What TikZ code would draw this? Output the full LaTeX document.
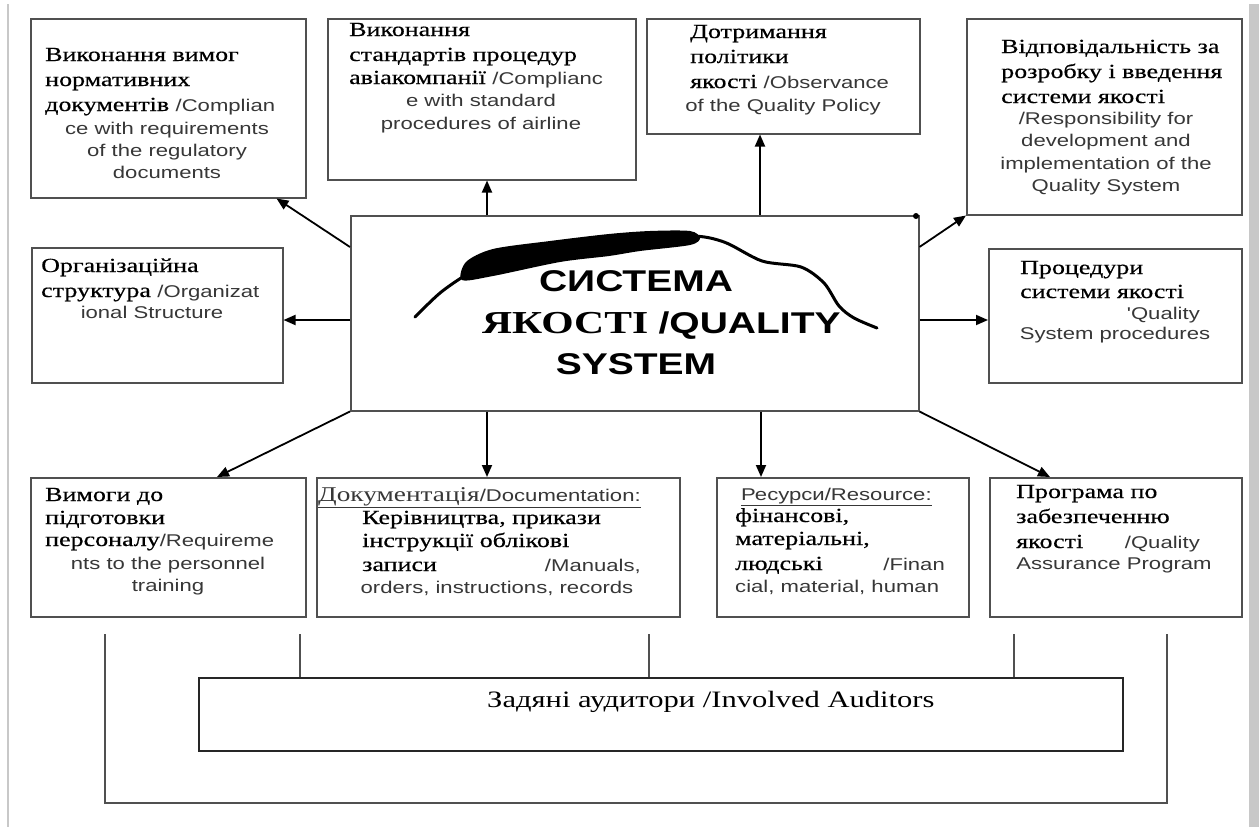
\documentclass[tikz,border=0pt]{standalone}
\usepackage{fontspec}
\usetikzlibrary{arrows.meta,calc}
\newfontfamily\ukr{Liberation Serif}[FakeStretch=1.3]
\newfontfamily\ukrdark{Liberation Serif}[FakeStretch=1.3,FakeBold=0.5]
\newfontfamily\lat{Liberation Sans}[FakeStretch=1.3]
\definecolor{framegray}{RGB}{80,80,80}
\definecolor{latgray}{RGB}{55,55,55}
\definecolor{scangray}{RGB}{200,200,200}

% Latin fragment inside a Ukrainian line
\newcommand\latpart[1]{{\lat\mdseries\fontsize{17}{20}\selectfont\color{latgray}#1}}
% box of given size, placed by its top-left corner
\newcommand\mkpanel[5]{\node[panel, minimum width=#4pt, minimum height=#5pt] (#1) at (#2,#3) {};}
% one line of text
\newcommand\putline[5]{\node[#4] (#1) at (#2,#3) {#5};}

\tikzset{
  panel/.style={draw=framegray, line width=1.5pt, anchor=north west, inner sep=0pt, fill=white},
  ua/.style={font=\ukrdark\fontsize{20}{24}\selectfont, anchor=base west, inner sep=0pt, text=black},
  en/.style={font=\lat\fontsize{17}{20}\selectfont, anchor=base, inner sep=0pt, text=latgray},
  enl/.style={en, anchor=base west},
  enr/.style={en, anchor=base east},
  hdr/.style={font=\lat\fontsize{17}{20}\selectfont, anchor=base west, inner sep=0pt, text=latgray},
  arr/.style={-{Triangle[length=12pt,width=10pt]}, line width=1.8pt},
  tie/.style={line width=1.2pt, draw=framegray},
}

\begin{document}
\begin{tikzpicture}[x=1pt,y=-1pt]
\useasboundingbox (0,0) rectangle (1259,827);
\fill[white] (0,0) rectangle (1259,827);

% page edges
\draw[scangray, line width=2pt] (8,4) -- (8,827);
\fill[scangray] (1249,4) rectangle (1259,827);

% boxes
\mkpanel{b1}{30}{18}{275}{179}
\mkpanel{b2}{327}{18}{308}{161}
\mkpanel{b3}{646}{18}{273}{115}
\mkpanel{b4}{966}{18}{275}{196}
\mkpanel{b5}{31}{247}{251}{135}
\mkpanel{b6}{988}{248}{253}{134}
\mkpanel{c}{350}{215}{568}{195}
\mkpanel{b7}{30}{477}{275}{139}
\mkpanel{b8}{316}{477}{363}{139}
\mkpanel{b9}{716}{477}{252}{139}
\mkpanel{b10}{989}{477}{252}{139}
\node[panel, draw=black!85, line width=2.4pt, minimum width=924pt, minimum height=73pt] (aud) at (198,677) {};

% top row texts
\putline{b1l1}{45}{61}{ua}{Виконання вимог}
\putline{b1l2}{45}{86}{ua}{нормативних}
\putline{b1l3}{45}{111}{ua}{документів \latpart{/Complian}}
\putline{b1l4}{167}{134}{en}{ce with requirements}
\putline{b1l5}{167}{156}{en}{of the regulatory}
\putline{b1l6}{167}{178}{en}{documents}

\putline{b2l1}{349}{36}{ua}{Виконання}
\putline{b2l2}{349}{61}{ua}{стандартів процедур}
\putline{b2l3}{349}{84}{ua}{авіакомпанії \latpart{/Complianc}}
\putline{b2l4}{481}{106}{en}{e with standard}
\putline{b2l5}{481}{129}{en}{procedures of airline}

\putline{b3l1}{690}{38}{ua}{Дотримання}
\putline{b3l2}{690}{63}{ua}{політики}
\putline{b3l3}{690}{88}{ua}{якості \latpart{/Observance}}
\putline{b3l4}{783}{111}{en}{of the Quality Policy}

\putline{b4l1}{1001}{53}{ua}{Відповідальність за}
\putline{b4l2}{1001}{78}{ua}{розробку і введення}
\putline{b4l3}{1001}{103}{ua}{системи якості}
\putline{b4l4}{1106}{124}{en}{/Responsibility for}
\putline{b4l5}{1106}{146}{en}{development and}
\putline{b4l6}{1106}{169}{en}{implementation of the}
\putline{b4l7}{1106}{191}{en}{Quality System}

% middle row texts
\putline{b5l1}{41}{272}{ua}{Організаційна}
\putline{b5l2}{41}{297}{ua}{структура \latpart{/Organizat}}
\putline{b5l3}{152}{318}{en}{ional Structure}

\putline{b6l1}{1020}{274}{ua}{Процедури}
\putline{b6l2}{1020}{298}{ua}{системи якості}
\putline{b6l3}{1200}{319}{enr}{'Quality}
\putline{b6l4}{1115}{339}{en}{System procedures}

% bottom row texts
\putline{b7l1}{45}{501}{ua}{Вимоги до}
\putline{b7l2}{45}{524}{ua}{підготовки}
\putline{b7l3}{45}{546}{ua}{персоналу\latpart{/Requireme}}
\putline{b7l4}{168}{569}{en}{nts to the personnel}
\putline{b7l5}{168}{591}{en}{training}

\putline{b8l1}{318}{501}{hdr}{\underline{{\ukr\fontsize{21}{24}\selectfont Документація}/Documentation:}}
\putline{b8l2}{362}{524}{ua}{Керівництва, прикази}
\putline{b8l3}{362}{547}{ua}{інструкції облікові}
\putline{b8l4}{362}{571}{ua}{записи}
\putline{b8l5}{641}{571}{enr}{/Manuals,}
\putline{b8l6}{497}{593}{en}{orders, instructions, records}

\putline{b9l1}{741}{500}{hdr}{\underline{Ресурси/Resource:}}
\putline{b9l2}{735}{522}{ua}{фінансові,}
\putline{b9l3}{735}{545}{ua}{матеріальні,}
\putline{b9l4}{735}{570}{ua}{людські}
\putline{b9l5}{945}{570}{enr}{/Finan}
\putline{b9l6}{735}{592}{enl}{cial, material, human}

\putline{b10l1}{1016}{498}{ua}{Програма по}
\putline{b10l2}{1016}{523}{ua}{забезпеченню}
\putline{b10l3}{1016}{548}{ua}{якості}
\putline{b10l4}{1200}{548}{enr}{/Quality}
\putline{b10l5}{1114}{569}{en}{Assurance Program}

% central title with the hand-drawn stroke over it
\fill plot[smooth cycle] coordinates {(462,280) (466,262) (493,249) (550,241) (609,234) (650,231) (690,231) (700,238) (690,245) (640,251) (609,256) (560,262) (493,276)};
\draw[line width=3pt, line cap=round, line join=round] plot[smooth] coordinates {(415,317) (440,293) (466,275) (493,262) (560,250) (620,242) (690,236) (724,242) (762,261) (801,267) (824,283) (839,306) (854,318) (877,328)};
\fill (916,216) circle[radius=3];

\node[font=\lat\bfseries\fontsize{30}{30}\selectfont, anchor=base, inner sep=0pt] (t1) at (636,291) {СИСТЕМА};
\node[font=\lat\bfseries\fontsize{30}{30}\selectfont, anchor=base west, inner sep=0pt] (t2) at (482,333) {{\ukr\bfseries\fontsize{32}{32}\selectfont ЯКОСТІ }/QUALITY};
\node[font=\lat\bfseries\fontsize{30}{30}\selectfont, anchor=base, inner sep=0pt] (t3) at (636,374) {SYSTEM};

% auditors
\node[font=\ukr\fontsize{23.5}{26}\selectfont, anchor=base west, inner sep=0pt] (audt) at (487,707) {Задяні аудитори /Involved Auditors};

% arrows from the quality system
\coordinate (cN1) at ($(c.north west)+(137,0)$);
\coordinate (cN2) at ($(c.north west)+(410,0)$);
\coordinate (cS1) at ($(c.south west)+(137,0)$);
\coordinate (cS2) at ($(c.south west)+(411,0)$);
\coordinate (cW) at ($(c.north west)+(0,105)$);
\coordinate (cE) at ($(c.north east)+(0,105)$);
\draw[arr] ($(c.north west)+(0,32)$) -- ($(b1.south east)+(-30,0)$);
\draw[arr] (cN1) -- (cN1 |- b2.south);
\draw[arr] (cN2) -- (cN2 |- b3.south);
\draw[arr] ($(c.north east)+(0,32)$) -- (b4.south west);
\draw[arr] (cW) -- (cW -| b5.east);
\draw[arr] (cE) -- (cE -| b6.west);
\draw[arr] (c.south west) -- ($(b7.north west)+(187,0)$);
\draw[arr] (cS1) -- (cS1 |- b8.north);
\draw[arr] (cS2) -- (cS2 |- b9.north);
\draw[arr] (c.south east) -- ($(b10.north west)+(61,0)$);

% ties to the auditors and the outer bracket
\coordinate (k1) at (300,634);
\coordinate (k2) at (649,634);
\coordinate (k3) at (1014,634);
\draw[tie] (k1) -- (k1 |- aud.north);
\draw[tie] (k2) -- (k2 |- aud.north);
\draw[tie] (k3) -- (k3 |- aud.north);
\coordinate (o1) at (105,634);
\coordinate (o2) at (1167,634);
\coordinate (o3) at (105,803);
\coordinate (o4) at (1167,803);
\draw[tie] (o1) -- (o3) -- (o4) -- (o2);
\end{tikzpicture}
\end{document}
